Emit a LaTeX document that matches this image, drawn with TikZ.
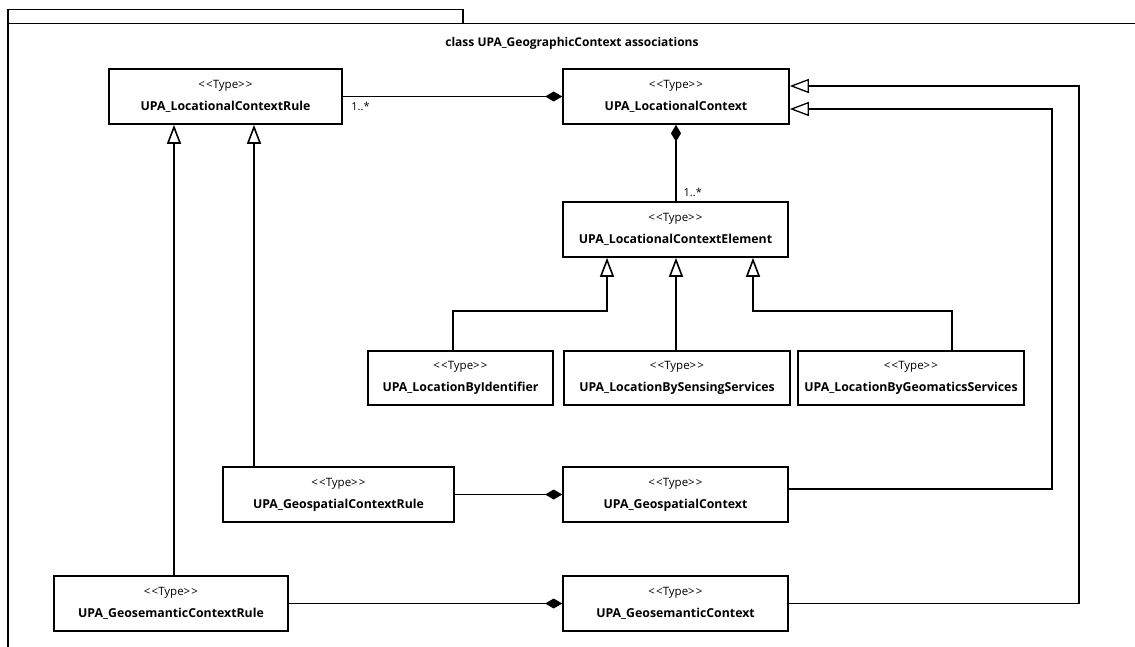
\documentclass[tikz,border=0pt]{standalone}
\usepackage{fontspec}
\setmainfont{Open Sans}
\usetikzlibrary{arrows.meta}
\begin{document}
\begin{tikzpicture}[x=1pt,y=-1pt,
  umlbox/.style={draw, line width=1.6pt, rectangle, inner sep=0pt, align=center,
    font=\fontsize{12.3}{22}\selectfont},
  comp/.style={line width=1.3pt, -{Diamond[length=17pt,width=10pt]}},
  gen/.style={line width=1.6pt, -{Triangle[open,length=19pt,width=14pt,fill=white]}},
  genthin/.style={gen, line width=1.3pt},
  mult/.style={font=\fontsize{11}{12}\selectfont, inner sep=1pt},
  frameline/.style={line width=1.6pt}
]
\useasboundingbox (0,0) rectangle (1135,647);
\newcommand\stereo{{\fontsize{11.5}{22}\selectfont <\kern1.2pt<Type>\kern1.2pt>}}
% frame
\draw[frameline] (8,647) -- (8,9.5) -- (463,9.5) -- (463,23.7);
\draw[frameline] (8,23.7) -- (1135,23.7);
\node[font=\bfseries\fontsize{12}{14}\selectfont] (title) at (572,43) {class UPA\_GeographicContext associations};
% boxes
\node[umlbox, minimum width=233pt, minimum height=55pt] (lcr) at (225.5,96.5) {\stereo\\\textbf{UPA\_LocationalContextRule}};
\node[umlbox, minimum width=226pt, minimum height=55pt] (lc) at (676,96.5) {\stereo\\\textbf{UPA\_LocationalContext}};
\node[umlbox, minimum width=225pt, minimum height=55pt] (lce) at (675.5,229.5) {\stereo\\\textbf{UPA\_LocationalContextElement}};
\node[umlbox, minimum width=185pt, minimum height=54pt] (ident) at (460.5,378) {\stereo\\\textbf{UPA\_LocationByIdentifier}};
\node[umlbox, minimum width=226pt, minimum height=54pt] (sens) at (677,378) {\stereo\\\textbf{UPA\_LocationBySensingServices}};
\node[umlbox, minimum width=226pt, minimum height=54pt] (geo) at (911,378) {\stereo\\\textbf{UPA\_LocationByGeomaticsServices}};
\node[umlbox, minimum width=231pt, minimum height=55pt] (gcr) at (338.5,494.5) {\stereo\\\textbf{UPA\_GeospatialContextRule}};
\node[umlbox, minimum width=225pt, minimum height=55pt] (gc) at (675.5,494.5) {\stereo\\\textbf{UPA\_GeospatialContext}};
\node[umlbox, minimum width=234pt, minimum height=55pt] (gsr) at (171,603.5) {\stereo\\\textbf{UPA\_GeosemanticContextRule}};
\node[umlbox, minimum width=225pt, minimum height=55pt] (gsc) at (675.5,603.5) {\stereo\\\textbf{UPA\_GeosemanticContext}};
% helper coordinates
\coordinate (xa) at (174,0);
\coordinate (xb) at (254,0);
\coordinate (xc) at (453,0);
\coordinate (xd) at (607,0);
\coordinate (xe) at (676,0);
\coordinate (xf) at (753,0);
\coordinate (xg) at (952,0);
\coordinate (xh) at (1052,0);
\coordinate (xi) at (1079,0);
\coordinate (ya) at (0,86);
\coordinate (yb) at (0,109);
\coordinate (yc) at (0,311);
\coordinate (yd) at (0,489);
% compositions
\draw[comp] (lcr.east) -- (lc.west) node[mult, pos=0, anchor=north west, xshift=7pt, yshift=-4pt] {1..*};
\draw[comp] (lce.north -| xe) -- (lc.south -| xe) node[mult, pos=0, anchor=south west, xshift=6pt, yshift=3pt] {1..*};
\draw[comp] (gcr.east) -- (gc.west);
\draw[comp] (gsr.east) -- (gsc.west);
% generalizations
\draw[gen] (ident.north -| xc) |- (xd |- yc) -- (lce.south -| xd);
\draw[gen] (sens.north -| xe) -- (lce.south -| xe);
\draw[gen] (geo.north -| xg) |- (xf |- yc) -- (lce.south -| xf);
\draw[gen] (gcr.north -| xb) -- (lcr.south -| xb);
\draw[gen] (gsr.north -| xa) -- (lcr.south -| xa);
\draw[genthin] (gc.east |- yd) -| (xh |- yb) -- (lc.east |- yb);
\draw[genthin] (gsc.east) -| (xi |- ya) -- (lc.east |- ya);
\end{tikzpicture}
\end{document}
